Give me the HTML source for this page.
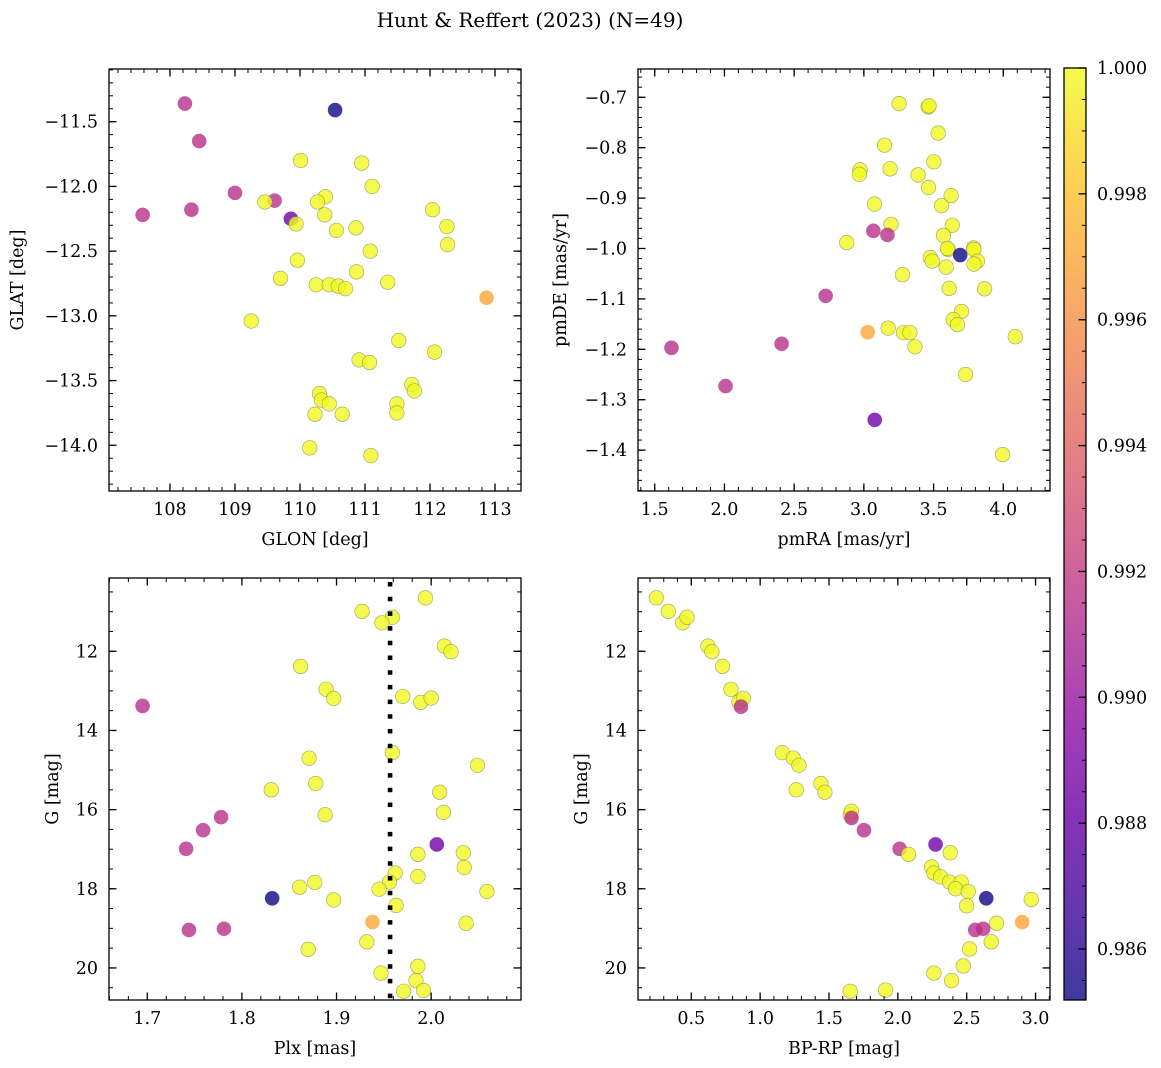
<!DOCTYPE html>
<html><head><meta charset="utf-8">
<style>
html,body{margin:0;padding:0;background:#fff;}
svg{display:block;font-family:"DejaVu Serif","Liberation Serif",serif;}
svg text{font-family:"DejaVu Serif","Liberation Serif",serif;}
</style></head>
<body>
<svg id="fig" width="1161" height="1068" viewBox="0 0 1161 1068" xmlns="http://www.w3.org/2000/svg">
<text x="530" y="27" font-size="20" text-anchor="middle">Hunt &amp; Reffert (2023) (N=49)</text>
</svg>
<script>
// ---- Panel 1: GLON vs GLAT ----
const glonVals = [108.23,110.54,108.45,107.58,108.33,109.0,109.61,109.46,109.86,109.94,110.01,110.95,111.11,110.39,110.27,110.38,110.56,110.86,111.08,112.04,112.26,112.27,109.96,109.70,110.87,110.25,110.45,110.59,110.70,111.35,112.87,109.25,111.52,112.07,110.91,111.07,111.72,111.76,110.30,110.33,110.45,111.49,111.49,110.23,110.65,110.15,111.09];
const glatVals = [-11.36,-11.41,-11.65,-12.22,-12.18,-12.05,-12.11,-12.12,-12.25,-12.29,-11.80,-11.82,-12.0,-12.08,-12.12,-12.22,-12.34,-12.32,-12.50,-12.18,-12.31,-12.45,-12.57,-12.71,-12.66,-12.76,-12.76,-12.77,-12.79,-12.74,-12.86,-13.04,-13.19,-13.28,-13.34,-13.36,-13.53,-13.58,-13.60,-13.65,-13.68,-13.68,-13.75,-13.76,-13.76,-14.02,-14.08];
const prob1 = [0.9914,0.9852,0.9914,0.9914,0.9914,0.9914,0.9914,1,0.9884,1,1,1,1,1,1,1,1,1,1,1,1,1,1,1,1,1,1,1,1,1,0.9970,1,1,1,1,1,1,1,1,1,1,1,1,1,1,1,1];
// ---- Panel 2: pmRA vs pmDE ----
const pmraVals = [3.253,3.461,3.468,3.533,3.148,3.502,2.973,2.968,3.188,3.389,3.464,3.626,3.076,3.557,3.195,3.634,3.068,3.169,2.877,3.571,3.605,3.60,3.691,3.787,3.789,3.476,3.49,3.815,3.79,3.59,3.277,3.612,3.866,2.726,3.70,3.641,3.672,3.174,3.028,3.284,3.33,3.366,4.086,1.62,2.41,3.729,2.008,3.078,3.995];
const pmdeVals = [-0.7125,-0.719,-0.717,-0.771,-0.795,-0.828,-0.844,-0.853,-0.842,-0.854,-0.879,-0.895,-0.912,-0.915,-0.952,-0.954,-0.965,-0.973,-0.988,-0.974,-1.002,-1.0,-1.013,-0.999,-1.002,-1.018,-1.025,-1.025,-1.031,-1.037,-1.052,-1.079,-1.080,-1.094,-1.125,-1.141,-1.151,-1.158,-1.166,-1.167,-1.167,-1.195,-1.175,-1.197,-1.189,-1.25,-1.273,-1.340,-1.409];
const prob2 = [1,1,1,1,1,1,1,1,1,1,1,1,1,1,1,1,0.9914,0.9914,1,1,1,1,0.9852,1,1,1,1,1,1,1,1,1,1,0.9914,1,1,1,1,0.9970,1,1,1,1,0.9914,0.9914,1,0.9914,0.9884,1];
// ---- Panel 3: Plx vs G ----
const plxVals = [1.994,1.927,1.959,1.948,2.014,2.021,1.862,1.889,1.897,1.970,1.989,2.000,1.695,1.959,1.871,2.049,1.831,1.878,2.009,2.013,1.888,1.778,1.759,1.741,2.006,1.986,2.034,2.035,1.962,1.986,1.956,1.877,1.861,1.945,2.059,1.832,1.897,1.963,1.938,2.037,1.744,1.781,1.932,1.870,1.986,1.947,1.984,1.971,1.992];
const gVals3 = [10.65,10.99,11.14,11.28,11.87,12.01,12.38,12.96,13.19,13.14,13.29,13.18,13.38,14.56,14.70,14.88,15.50,15.34,15.56,16.07,16.13,16.19,16.52,16.99,16.88,17.13,17.09,17.46,17.60,17.69,17.83,17.84,17.96,18.01,18.07,18.24,18.28,18.42,18.84,18.87,19.04,19.01,19.34,19.53,19.96,20.13,20.32,20.59,20.57];
const prob3 = [1,1,1,1,1,1,1,1,1,1,1,1,0.9914,1,1,1,1,1,1,1,1,0.9914,0.9914,0.9914,0.9884,1,1,1,1,1,1,1,1,1,1,0.9852,1,1,0.9970,1,0.9914,0.9914,1,1,1,1,1,1,1];
const plxCut = [1.9566];
// ---- Panel 4: BP-RP vs G ----
const bprpVals = [0.246,0.333,0.437,0.469,0.621,0.650,0.727,0.788,0.846,0.878,0.861,1.161,1.241,1.282,1.262,1.441,1.470,1.654,1.662,1.664,1.754,2.013,2.078,2.274,2.380,2.245,2.262,2.311,2.376,2.460,2.419,2.511,2.499,2.642,2.969,2.903,2.717,2.562,2.620,2.678,2.521,2.475,2.262,2.390,1.654,1.911];
const gVals4 = [10.65,10.99,11.28,11.14,11.87,12.01,12.38,12.96,13.28,13.19,13.40,14.56,14.70,14.88,15.50,15.34,15.56,16.13,16.04,16.21,16.52,16.99,17.13,16.88,17.09,17.45,17.60,17.70,17.83,17.83,18.0,18.07,18.43,18.24,18.27,18.84,18.87,19.04,19.01,19.34,19.52,19.95,20.13,20.32,20.59,20.56];
const prob4 = [1,1,1,1,1,1,1,1,1,1,0.9914,1,1,1,1,1,1,1,1,0.9914,0.9914,0.9914,1,0.9884,1,1,1,1,1,1,1,1,1,0.9852,1,0.9970,1,0.9914,0.9914,1,1,1,1,1,1,1];
// ---- Colorbar ----
const cbarTicks = [0.986,0.988,0.990,0.992,0.994,0.996,0.998,1.000];
const cMin = 0.98519, cMax = 1.0;

const NS = "http://www.w3.org/2000/svg";
const svg = document.getElementById('fig');
function mk(tag, attrs, parent){const e=document.createElementNS(NS,tag);for(const k in attrs)e.setAttribute(k,attrs[k]);(parent||svg).appendChild(e);return e;}
const plasma=[[13,8,135],[65,4,157],[106,0,168],[143,13,164],[177,42,144],[204,71,120],[225,100,98],[242,132,75],[252,166,54],[252,206,37],[240,249,33]];
function cmap(v){let t=(v-cMin)/(cMax-cMin);t=Math.max(0,Math.min(1,t));const s=t*10,i=Math.min(9,Math.floor(s)),f=s-i;const a=plasma[i],b=plasma[i+1];return 'rgb('+[0,1,2].map(k=>Math.round(a[k]+(b[k]-a[k])*f)).join(',')+')';}
function fmtMinus(s){return s.replace('-','\u2212');}
function range(a,b,st){const r=[];const n=Math.round((b-a)/st);for(let i=0;i<=n;i++)r.push(+(a+i*st).toFixed(6));return r;}

function panel(c){
  const g=mk('g',{});
  
  
  const X=v=>c.x0+(v-c.xd[0])/(c.xd[1]-c.xd[0])*(c.x1-c.x0);
  const Y=v=>c.y0+(v-c.yd[0])/(c.yd[1]-c.yd[0])*(c.y1-c.y0);
  const pg=mk('g',{},g);
  
  
  c.xs.forEach((xv,i)=>{
    const p=mk('circle',{cx:X(xv),cy:Y(c.ys[i]),r:7.3,fill:cmap(c.ps[i]),'fill-opacity':0.8,stroke:c.ps[i]>0.999?'#7a7a50':'none','stroke-opacity':0.7,'stroke-width':0.6},pg);
    
    
  });
  if(c.vline){
    const l=mk('line',{x1:X(c.vline[0]),x2:X(c.vline[0]),y1:c.y0,y2:c.y1,stroke:'#000','stroke-width':4.6,'stroke-dasharray':'4.5 10.2','stroke-dashoffset':'-4'},g);
    
    
  }
  const fr=mk('rect',{x:c.x0,y:c.y0,width:c.x1-c.x0,height:c.y1-c.y0,fill:'none',stroke:'#000','stroke-width':1.3},g);
  
  
  const xmin=Math.min(...c.xd),xmax=Math.max(...c.xd),ymin=Math.min(...c.yd),ymax=Math.max(...c.yd);
  range(c.xminor[0],c.xminor[1],c.xminor[2]).forEach(v=>{if(v<xmin||v>xmax)return;const x=X(v);mk('line',{x1:x,x2:x,y1:c.y1,y2:c.y1-4,stroke:'#000','stroke-width':1},g);mk('line',{x1:x,x2:x,y1:c.y0,y2:c.y0+4,stroke:'#000','stroke-width':1},g);});
  range(c.yminor[0],c.yminor[1],c.yminor[2]).forEach(v=>{if(v<ymin||v>ymax)return;const y=Y(v);mk('line',{x1:c.x0,x2:c.x0+4,y1:y,y2:y,stroke:'#000','stroke-width':1},g);mk('line',{x1:c.x1,x2:c.x1-4,y1:y,y2:y,stroke:'#000','stroke-width':1},g);});
  c.xticks.forEach(v=>{const x=X(v);mk('line',{x1:x,x2:x,y1:c.y1,y2:c.y1-7.5,stroke:'#000','stroke-width':1.3},g);mk('line',{x1:x,x2:x,y1:c.y0,y2:c.y0+7.5,stroke:'#000','stroke-width':1.3},g);
    const t=mk('text',{x:x,y:c.y1+24,'font-size':17.5,'text-anchor':'middle'},g);t.textContent=fmtMinus(v.toFixed(c.xdec));
    
    });
  c.yticks.forEach(v=>{const y=Y(v);mk('line',{x1:c.x0,x2:c.x0+7.5,y1:y,y2:y,stroke:'#000','stroke-width':1.3},g);mk('line',{x1:c.x1,x2:c.x1-7.5,y1:y,y2:y,stroke:'#000','stroke-width':1.3},g);
    const t=mk('text',{x:c.x0-11,y:y+6,'font-size':17.5,'text-anchor':'end'},g);t.textContent=fmtMinus(v.toFixed(c.ydec));
    
    });
  const xl=mk('text',{x:(c.x0+c.x1)/2,y:c.y1+54,'font-size':17.5,'text-anchor':'middle'},g);xl.textContent=c.xlabel;
  
  
  const yl=mk('text',{x:0,y:0,'font-size':17.5,'text-anchor':'middle',transform:'translate('+c.ylx+','+((c.y0+c.y1)/2)+') rotate(-90)'},g);yl.textContent=c.ylabel;
  
  
}

panel({name:'glon-glat-panel',x0:109,x1:521,y0:69,y1:491,xd:[107.062,113.4],yd:[-11.093,-14.353],xs:glonVals,ys:glatVals,ps:prob1,
  xticks:range(108,113,1),yticks:range(-14,-11.5,0.5),xminor:[107,114,0.2],yminor:[-14.4,-11,0.1],xdec:0,ydec:1,xlabel:'GLON [deg]',ylabel:'GLAT [deg]',ylx:23});
panel({name:'pm-panel',x0:638,x1:1050,y0:69,y1:491,xd:[1.380,4.335],yd:[-0.6439,-1.4811],xs:pmraVals,ys:pmdeVals,ps:prob2,
  xticks:range(1.5,4.0,0.5),yticks:range(-1.4,-0.7,0.1),xminor:[1.3,4.4,0.1],yminor:[-1.5,-0.62,0.02],xdec:1,ydec:1,xlabel:'pmRA [mas/yr]',ylabel:'pmDE [mas/yr]',ylx:566});
panel({name:'plx-g-panel',x0:109,x1:521,y0:578,y1:1000,xd:[1.6595,2.0950],yd:[10.148,20.81],xs:plxVals,ys:gVals3,ps:prob3,vline:plxCut,
  xticks:range(1.7,2.0,0.1),yticks:range(12,20,2),xminor:[1.66,2.1,0.02],yminor:[10,21,0.5],xdec:1,ydec:0,xlabel:'Plx [mas]',ylabel:'G [mag]',ylx:58});
panel({name:'cmd-panel',x0:638,x1:1050,y0:578,y1:1000,xd:[0.113,3.105],yd:[10.148,20.81],xs:bprpVals,ys:gVals4,ps:prob4,
  xticks:range(0.5,3.0,0.5),yticks:range(12,20,2),xminor:[0.1,3.2,0.1],yminor:[10,21,0.5],xdec:1,ydec:0,xlabel:'BP-RP [mag]',ylabel:'G [mag]',ylx:587});

(function(){
  const x0=1064,x1=1086,y0=68,y1=1000;
  const cg=mk('g',{});
  
  
  const defs=mk('defs',{},cg);
  const lg=mk('linearGradient',{id:'cbg',x1:0,y1:1,x2:0,y2:0},defs);
  for(let i=0;i<=20;i++){const t=i/20;mk('stop',{offset:t,'stop-color':cmap(cMin+t*(cMax-cMin)),'stop-opacity':0.8},lg);}
  mk('rect',{x:x0,y:y0,width:x1-x0,height:y1-y0,fill:'url(#cbg)',stroke:'#000','stroke-width':1.3},cg);
  const Y=v=>y1-(v-cMin)/(cMax-cMin)*(y1-y0);
  range(0.9855,1.0,0.0005).forEach(v=>{const y=Y(v);if(y<y0||y>y1)return;mk('line',{x1:x1,x2:x1-4,y1:y,y2:y,stroke:'#000','stroke-width':1},cg);});
  cbarTicks.forEach(v=>{const y=Y(v);mk('line',{x1:x1,x2:x1-7.5,y1:y,y2:y,stroke:'#000','stroke-width':1.3},cg);
    const t=mk('text',{x:1097,y:y+6,'font-size':17.5},cg);t.textContent=v.toFixed(3);
    
    });
})();
</script>
</body></html>
